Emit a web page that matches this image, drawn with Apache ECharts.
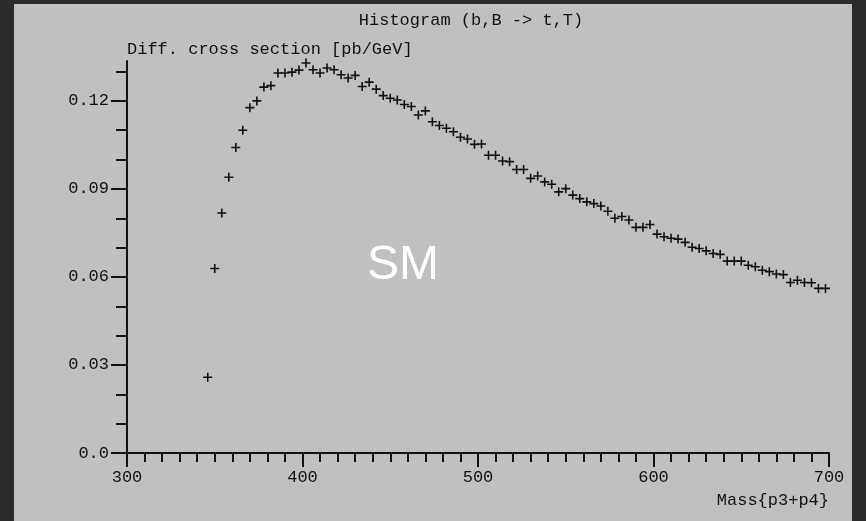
<!DOCTYPE html>
<html><head><meta charset="utf-8">
<script src="https://cdn.jsdelivr.net/npm/echarts/dist/echarts.min.js"></script>
<style>html,body{margin:0;padding:0;background:#2b2b2b;}#c{width:866px;height:521px;}</style>
</head><body><div id="c"></div>
<script>
const massBins = [346,350,354,358,362,366,370,374,378,382,386,390,394,398,402,406,410,414,418,422,426,430,434,438,442,446,450,454,458,462,466,470,474,478,482,486,490,494,498,502,506,510,514,518,522,526,530,534,538,542,546,550,554,558,562,566,570,574,578,582,586,590,594,598,602,606,610,614,618,622,626,630,634,638,642,646,650,654,658,662,666,670,674,678,682,686,690,694,698];
const crossSection = [0.0258,0.0629,0.0818,0.0940,0.1041,0.1100,0.1177,0.1200,0.1247,0.1252,0.1295,0.1295,0.1298,0.1305,0.1329,0.1306,0.1295,0.1312,0.1306,0.1289,0.1278,0.1287,0.1249,0.1264,0.1240,0.1218,0.1209,0.1203,0.1188,0.1181,0.1152,0.1166,0.1129,0.1116,0.1107,0.1095,0.1076,0.1070,0.1052,0.1053,0.1015,0.1015,0.0995,0.0993,0.0966,0.0966,0.0936,0.0944,0.0924,0.0916,0.0890,0.0901,0.0879,0.0867,0.0856,0.0850,0.0842,0.0824,0.0800,0.0806,0.0794,0.0769,0.0769,0.0779,0.0746,0.0737,0.0732,0.0729,0.0718,0.0701,0.0697,0.0689,0.0680,0.0677,0.0654,0.0654,0.0654,0.0640,0.0635,0.0623,0.0618,0.0610,0.0608,0.0581,0.0589,0.0581,0.0580,0.0561,0.0561];
const yMajorTicks = [0, 0.03, 0.06, 0.09, 0.12];
const yTickLabels = ['0.0', '0.03', '0.06', '0.09', '0.12'];
const yMinorTicks = [0.01, 0.02, 0.04, 0.05, 0.07, 0.08, 0.10, 0.11, 0.13];
const xTickLabels = ['300', '400', '500', '600', '700'];
const titleText = 'Histogram (b,B -> t,T)';
const yName = 'Diff. cross section [pb/GeV]';
const xName = 'Mass{p3+p4}';
const panelLabel = 'SM';

const FONT = '"Liberation Mono", "DejaVu Sans Mono", monospace';
const INK = '#111111';
const chart = echarts.init(document.getElementById('c'), null, {renderer: 'canvas', width: 866, height: 521});
const lineStyle = {color: INK, width: 2};
const plus = 'path://M3.7,0 h1.6 v3.7 h3.7 v1.6 h-3.7 v3.7 h-1.6 v-3.7 h-3.7 v-1.6 h3.7 z';

chart.setOption({
  backgroundColor: '#2b2b2b',
  animation: false,
  graphic: [
    {type: 'rect', z: -10, shape: {x: 14, y: 4, width: 838, height: 517}, style: {fill: '#c0c0c0'}},
    {type: 'text', x: 471, y: 20, style: {text: titleText, fontFamily: FONT, fontSize: 17, fill: INK, textAlign: 'center', align: 'center', textVerticalAlign: 'middle', verticalAlign: 'middle'}},
    {type: 'text', x: 127, y: 49, style: {text: yName, fontFamily: FONT, fontSize: 17, fill: INK, textAlign: 'left', align: 'left', textVerticalAlign: 'middle', verticalAlign: 'middle'}},
    {type: 'text', x: 829, y: 500, style: {text: xName, fontFamily: FONT, fontSize: 17, fill: INK, textAlign: 'right', align: 'right', textVerticalAlign: 'middle', verticalAlign: 'middle'}},
    {type: 'text', x: 403, y: 266, z: 5, style: {text: panelLabel, fontFamily: '"Liberation Sans", Arial, sans-serif', fontSize: 48, fill: '#ffffff', textAlign: 'center', align: 'center', textVerticalAlign: 'middle', verticalAlign: 'middle'}}
  ],
  grid: {left: 127, right: 37, top: 61, bottom: 68, containLabel: false},
  xAxis: {
    type: 'value', min: 300, max: 700, interval: 100,
    axisLine: {show: true, onZero: false, lineStyle: lineStyle},
    axisTick: {show: true, length: 14, lineStyle: lineStyle},
    minorTick: {show: true, splitNumber: 10, length: 9, lineStyle: lineStyle},
    splitLine: {show: false}, minorSplitLine: {show: false},
    axisLabel: {margin: 16, color: INK, fontFamily: FONT, fontSize: 17,
      formatter: function (v) { const i = Math.round((v - 300) / 100); return xTickLabels[i] || ''; }}
  },
  yAxis: [
    {
      type: 'value', min: 0, max: 0.1336, position: 'left',
      axisLine: {show: true, onZero: false, lineStyle: lineStyle},
      axisTick: {show: true, length: 16, customValues: yMajorTicks, lineStyle: lineStyle},
      splitLine: {show: false},
      axisLabel: {margin: 18, color: INK, fontFamily: FONT, fontSize: 17, customValues: yMajorTicks,
        formatter: function (v) { const i = yMajorTicks.findIndex(t => Math.abs(t - v) < 1e-9); return i >= 0 ? yTickLabels[i] : ''; }}
    },
    {
      type: 'value', min: 0, max: 0.1336, position: 'left', offset: 0,
      axisLine: {show: false},
      axisTick: {show: true, length: 11, customValues: yMinorTicks, lineStyle: lineStyle},
      axisLabel: {show: false}, splitLine: {show: false}
    }
  ],
  series: [{
    type: 'scatter', xAxisIndex: 0, yAxisIndex: 0,
    symbol: plus, symbolSize: 9,
    itemStyle: {color: INK, opacity: 1},
    data: massBins.map((m, i) => [m, crossSection[i]])
  }]
});
</script></body></html>
